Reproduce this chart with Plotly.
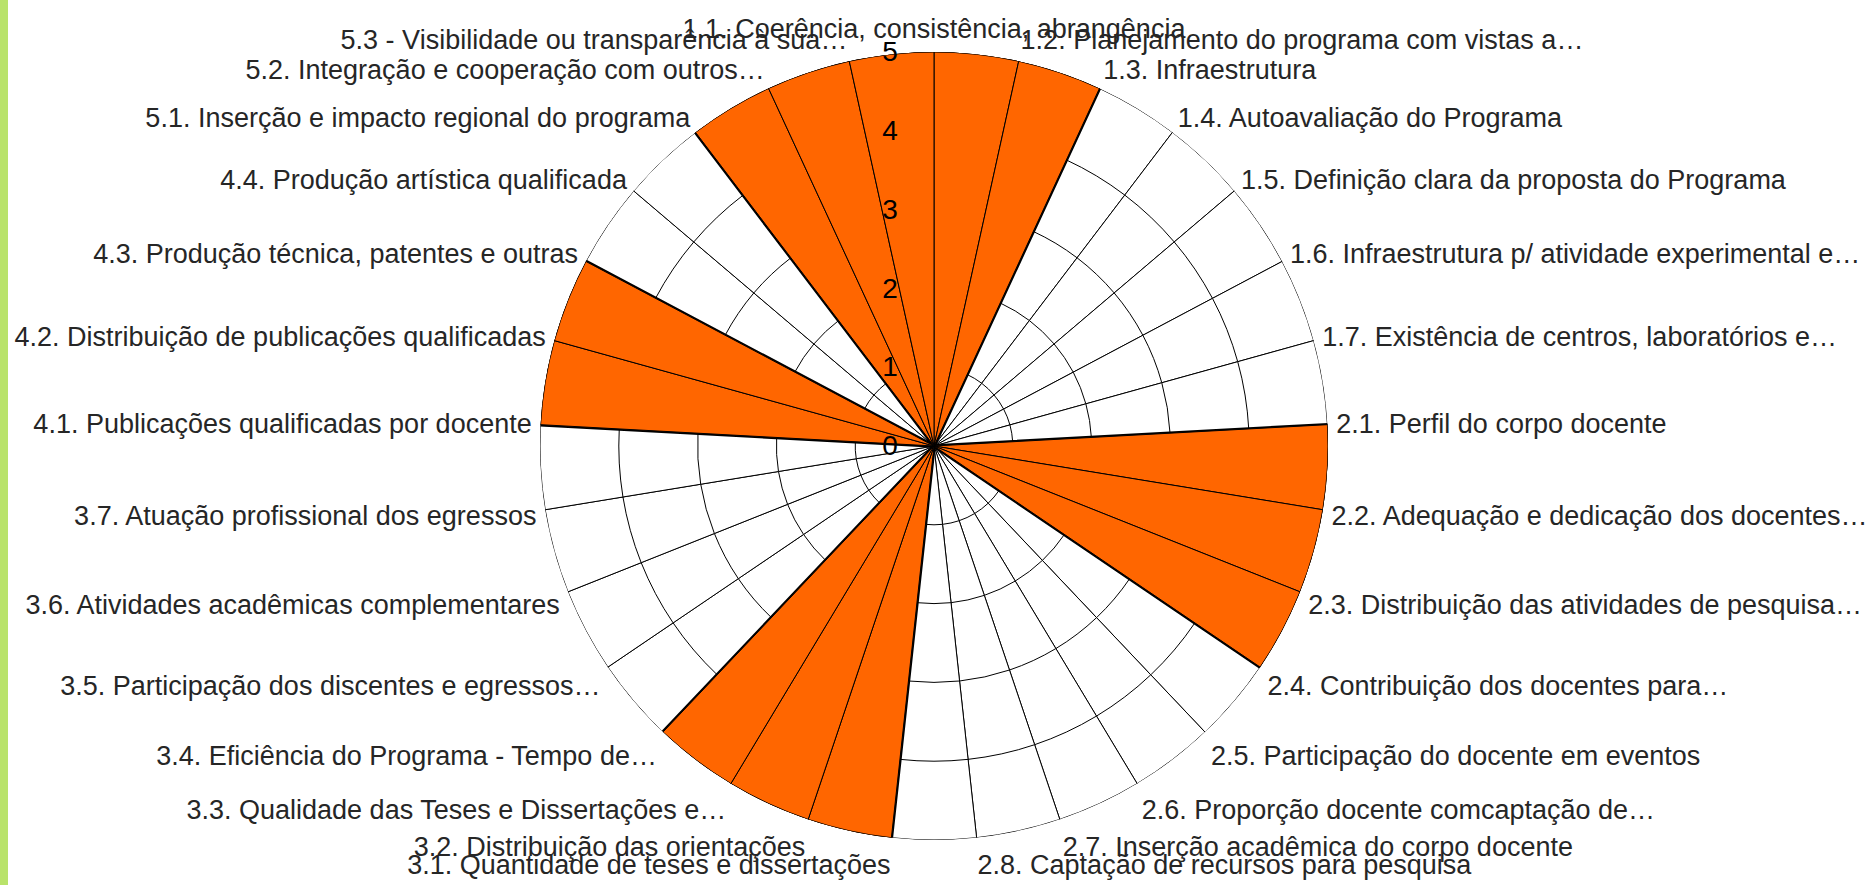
import plotly.graph_objects as go

categories = [
    "1.1. Coerência, consistência, abrangência",
    "1.2. Planejamento do programa com vistas a…",
    "1.3. Infraestrutura",
    "1.4. Autoavaliação do Programa",
    "1.5. Definição clara da proposta do Programa",
    "1.6. Infraestrutura p/ atividade experimental e…",
    "1.7. Existência de centros, laboratórios e…",
    "2.1. Perfil do corpo docente",
    "2.2. Adequação e dedicação dos docentes…",
    "2.3. Distribuição das atividades de pesquisa…",
    "2.4. Contribuição dos docentes para…",
    "2.5. Participação do docente em eventos",
    "2.6. Proporção docente comcaptação de…",
    "2.7. Inserção acadêmica do corpo docente",
    "2.8. Captação de recursos para pesquisa",
    "3.1. Quantidade de teses e dissertações",
    "3.2. Distribuição das orientações",
    "3.3. Qualidade das Teses e Dissertações e…",
    "3.4. Eficiência do Programa - Tempo de…",
    "3.5. Participação dos discentes e egressos…",
    "3.6. Atividades acadêmicas complementares",
    "3.7. Atuação profissional dos egressos",
    "4.1. Publicações qualificadas por docente",
    "4.2. Distribuição de publicações qualificadas",
    "4.3. Produção técnica, patentes e outras",
    "4.4. Produção artística qualificada",
    "5.1. Inserção e impacto regional do programa",
    "5.2. Integração e cooperação com outros…",
    "5.3 - Visibilidade ou transparência à sua…",
]

scores = [5, 5, 0, 0, 0, 0, 0,
          5, 5, 5, 0, 0, 0, 0, 0,
          5, 5, 5, 0, 0, 0, 0,
          5, 5, 0, 0,
          5, 5, 5]

radial_ticks = [0, 1, 2, 3, 4, 5]

n = len(categories)
step = 360.0 / n
spoke_angles = [i * step for i in range(n)]
bar_angles = [a + step / 2 for a in spoke_angles]

ORANGE = "#FF6600"
FONT = "Liberation Sans, Arial, sans-serif"

fig = go.Figure()

# grid cells (rings) drawn as outlined white wedges below the data bars
for rv in sorted(radial_ticks[1:], reverse=True):
    fig.add_trace(go.Barpolar(
        r=[rv] * n, theta=bar_angles, width=[step] * n,
        marker=dict(color="white", line=dict(color="black", width=1)),
        hoverinfo="skip", showlegend=False))

# data bars: thick outline layer, then thin outline layer on top
fig.add_trace(go.Barpolar(
    r=scores, theta=bar_angles, width=[step] * n,
    marker=dict(color=ORANGE, line=dict(color="black", width=3.5)),
    showlegend=False, hoverinfo="skip"))
fig.add_trace(go.Barpolar(
    r=scores, theta=bar_angles, width=[step] * n,
    marker=dict(color=ORANGE, line=dict(color="black", width=1)),
    showlegend=False, customdata=categories,
    hovertemplate="%{customdata}: %{r}<extra></extra>"))

W, H = 1875, 885
cx, cy, R = 934, 446, 394
fig.update_layout(
    width=W, height=H,
    margin=dict(l=0, r=0, t=0, b=0),
    paper_bgcolor="white",
    showlegend=False,
    polar=dict(
        domain=dict(x=[(cx - R) / W, (cx + R) / W],
                    y=[1 - (cy + R) / H, 1 - (cy - R) / H]),
        bgcolor="white",
        barmode="overlay",
        radialaxis=dict(
            range=[0, 5], tickvals=radial_ticks,
            ticktext=[str(v) for v in radial_ticks],
            showgrid=False, showline=False,
            angle=90, side="counterclockwise",
            ticks="outside", ticklen=26, tickcolor="rgba(0,0,0,0)",
            tickfont=dict(family=FONT, size=28, color="black"),
            tickangle=90,
        ),
        angularaxis=dict(
            thetaunit="degrees", direction="clockwise", rotation=90,
            tickmode="array", tickvals=spoke_angles, ticktext=categories,
            showgrid=True, gridcolor="black", gridwidth=1,
            showline=False, ticks="outside", ticklen=3,
            tickcolor="rgba(0,0,0,0)",
            tickfont=dict(family=FONT, size=27, color="#262626"),
        ),
    ),
    shapes=[dict(type="rect", xref="paper", yref="paper",
                 x0=0, x1=8 / W, y0=0, y1=1,
                 fillcolor="#b9e36b", line=dict(width=0), layer="below")],
)

fig.write_html("out.html", config={"displayModeBar": False},
               post_script="document.body.style.margin='0';")
